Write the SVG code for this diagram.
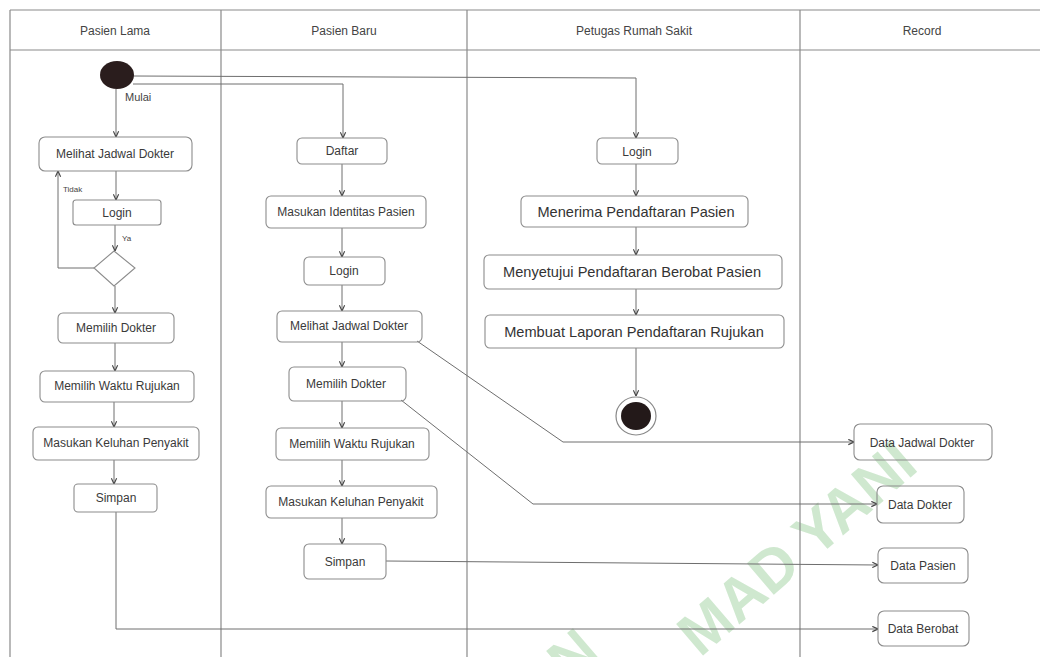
<svg xmlns="http://www.w3.org/2000/svg" width="1040" height="657" viewBox="0 0 1040 657">
  <style>
    .lane { stroke: #8a8a8a; stroke-width: 1.2; fill: none; }
    .box { fill: none; stroke: #8c8c8c; stroke-width: 1.1; }
    .lbl { font-family: "Liberation Sans", Arial, sans-serif; font-size: 12px; fill: #3a3a3a; text-anchor: middle; dominant-baseline: central; }
    .big { font-size: 14.6px; fill: #333; }
    .hdr { font-family: "Liberation Sans", Arial, sans-serif; font-size: 12px; fill: #444; text-anchor: middle; dominant-baseline: central; }
    .note { font-family: "Liberation Sans", Arial, sans-serif; fill: #444; }
    .edge { fill: none; stroke: #6e6e6e; stroke-width: 1; }
    .wm { font-family: "Liberation Sans", Arial, sans-serif; font-weight: bold; font-size: 60px; fill: #cfe8cf; }
  </style>
  <defs>
    <marker id="arrow" viewBox="0 0 8 8" refX="7.5" refY="4" markerWidth="7" markerHeight="7" orient="auto" markerUnits="userSpaceOnUse">
      <path d="M1,1 L7.5,4 L1,7" fill="none" stroke="#444" stroke-width="1.3"/>
    </marker>
  </defs>

  <rect width="1040" height="657" fill="#ffffff"/>

  <!-- watermark -->
  <g id="watermark">
    <text class="wm" transform="translate(570,685) rotate(-40.6)">N</text>
    <text class="wm" transform="translate(700,658) rotate(-40.6)">MAD YANI</text>
  </g>

  <!-- swimlane frame -->
  <g id="lanes">
    <path class="lane" d="M10,10 H1040 M10,50 H1040 M10,10 V657 M221,10 V657 M467,10 V657 M800,10 V657"/>
    <text class="hdr" x="115" y="31">Pasien Lama</text>
    <text class="hdr" x="344" y="31">Pasien Baru</text>
    <text class="hdr" x="634" y="31">Petugas Rumah Sakit</text>
    <text class="hdr" x="922" y="31">Record</text>
  </g>

  <!-- connectors -->
  <g id="connectors">
    <!-- from start -->
    <path class="edge" d="M116,89 V137" marker-end="url(#arrow)"/>
    <path class="edge" d="M133,84 H343 V138" marker-end="url(#arrow)"/>
    <path class="edge" d="M133,76 L636,78 V138" marker-end="url(#arrow)"/>

    <!-- Pasien Lama -->
    <path class="edge" d="M116,171 V200" marker-end="url(#arrow)"/>
    <path class="edge" d="M115,225 V251" marker-end="url(#arrow)"/>
    <path class="edge" d="M94,268 H58 V171" marker-end="url(#arrow)"/>
    <path class="edge" d="M115,286 V313" marker-end="url(#arrow)"/>
    <path class="edge" d="M115,343 V371" marker-end="url(#arrow)"/>
    <path class="edge" d="M114,402 V427" marker-end="url(#arrow)"/>
    <path class="edge" d="M114,460 V484" marker-end="url(#arrow)"/>
    <path class="edge" d="M116,512 V629 H878" marker-end="url(#arrow)"/>

    <!-- Pasien Baru -->
    <path class="edge" d="M342,164 V196" marker-end="url(#arrow)"/>
    <path class="edge" d="M342,228 V257" marker-end="url(#arrow)"/>
    <path class="edge" d="M342,285 V311" marker-end="url(#arrow)"/>
    <path class="edge" d="M342,342 V367" marker-end="url(#arrow)"/>
    <path class="edge" d="M342,401 V428" marker-end="url(#arrow)"/>
    <path class="edge" d="M342,460 V486" marker-end="url(#arrow)"/>
    <path class="edge" d="M342,518 V544" marker-end="url(#arrow)"/>
    <path class="edge" d="M417,341 L563,442 H854" marker-end="url(#arrow)"/>
    <path class="edge" d="M401,400 L533,504 H877" marker-end="url(#arrow)"/>
    <path class="edge" d="M386,561 L878,565" marker-end="url(#arrow)"/>

    <!-- Petugas Rumah Sakit -->
    <path class="edge" d="M636,164 V196" marker-end="url(#arrow)"/>
    <path class="edge" d="M636,227 V255" marker-end="url(#arrow)"/>
    <path class="edge" d="M636,289 V315" marker-end="url(#arrow)"/>
    <path class="edge" d="M636,348 V396" marker-end="url(#arrow)"/>

    <text class="note" x="125" y="101" font-size="11">Mulai</text>
    <text class="note" x="63" y="192" font-size="8">Tidak</text>
    <text class="note" x="122" y="241" font-size="8">Ya</text>
  </g>

  <!-- start / end -->
  <g id="start">
    <ellipse cx="117" cy="75" rx="17" ry="14" fill="#2a1d1d"/>
  </g>
  <g id="end">
    <ellipse cx="636" cy="416" rx="20" ry="19" fill="#fff" stroke="#888" stroke-width="1.2"/>
    <ellipse cx="636" cy="416" rx="15" ry="14" fill="#231919"/>
  </g>

  <!-- Pasien Lama -->
  <g id="pl-jadwal"><rect class="box" x="39" y="137" width="153" height="34" rx="6"/><text class="lbl" x="115" y="154">Melihat Jadwal Dokter</text></g>
  <g id="pl-login"><rect class="box" x="73" y="200" width="88" height="25" rx="3"/><text class="lbl" x="117" y="213">Login</text></g>
  <g id="pl-decision"><polygon points="114,251 135,268 114,286 94,268" fill="none" stroke="#8c8c8c" stroke-width="1.1"/></g>
  <g id="pl-dokter"><rect class="box" x="58" y="313" width="116" height="30" rx="5"/><text class="lbl" x="116" y="328">Memilih Dokter</text></g>
  <g id="pl-waktu"><rect class="box" x="40" y="371" width="154" height="31" rx="5"/><text class="lbl" x="117" y="386">Memilih Waktu Rujukan</text></g>
  <g id="pl-keluhan"><rect class="box" x="33" y="427" width="166" height="33" rx="5"/><text class="lbl" x="116" y="443">Masukan Keluhan Penyakit</text></g>
  <g id="pl-simpan"><rect class="box" x="74" y="484" width="83" height="28" rx="4"/><text class="lbl" x="116" y="498">Simpan</text></g>

  <!-- Pasien Baru -->
  <g id="pb-daftar"><rect class="box" x="297" y="138" width="90" height="26" rx="5"/><text class="lbl" x="342" y="151">Daftar</text></g>
  <g id="pb-identitas"><rect class="box" x="266" y="196" width="160" height="32" rx="5"/><text class="lbl" x="346" y="212">Masukan Identitas Pasien</text></g>
  <g id="pb-login"><rect class="box" x="304" y="257" width="81" height="28" rx="5"/><text class="lbl" x="344" y="271">Login</text></g>
  <g id="pb-jadwal"><rect class="box" x="277" y="311" width="145" height="31" rx="5"/><text class="lbl" x="349" y="326">Melihat Jadwal Dokter</text></g>
  <g id="pb-dokter"><rect class="box" x="289" y="367" width="117" height="34" rx="5"/><text class="lbl" x="346" y="384">Memilih Dokter</text></g>
  <g id="pb-waktu"><rect class="box" x="276" y="428" width="153" height="32" rx="5"/><text class="lbl" x="352" y="444">Memilih Waktu Rujukan</text></g>
  <g id="pb-keluhan"><rect class="box" x="266" y="486" width="171" height="32" rx="5"/><text class="lbl" x="351" y="502">Masukan Keluhan Penyakit</text></g>
  <g id="pb-simpan"><rect class="box" x="304" y="544" width="82" height="35" rx="5"/><text class="lbl" x="345" y="562">Simpan</text></g>

  <!-- Petugas Rumah Sakit -->
  <g id="pr-login"><rect class="box" x="597" y="138" width="81" height="26" rx="5"/><text class="lbl" x="637" y="152">Login</text></g>
  <g id="pr-menerima"><rect class="box" x="521" y="196" width="227" height="31" rx="5"/><text class="lbl big" x="636" y="212">Menerima Pendaftaran Pasien</text></g>
  <g id="pr-menyetujui"><rect class="box" x="484" y="255" width="298" height="34" rx="5"/><text class="lbl big" x="632" y="272">Menyetujui Pendaftaran Berobat Pasien</text></g>
  <g id="pr-laporan"><rect class="box" x="485" y="315" width="299" height="33" rx="5"/><text class="lbl big" x="634" y="332">Membuat Laporan Pendaftaran Rujukan</text></g>

  <!-- Record -->
  <g id="rec-jadwal"><rect class="box" x="854" y="424" width="138" height="36" rx="6"/><text class="lbl" x="922" y="443">Data Jadwal Dokter</text></g>
  <g id="rec-dokter"><rect class="box" x="877" y="486" width="87" height="37" rx="6"/><text class="lbl" x="920" y="505">Data Dokter</text></g>
  <g id="rec-pasien"><rect class="box" x="878" y="548" width="90" height="35" rx="6"/><text class="lbl" x="923" y="566">Data Pasien</text></g>
  <g id="rec-berobat"><rect class="box" x="878" y="611" width="91" height="35" rx="6"/><text class="lbl" x="923" y="629">Data Berobat</text></g>
</svg>
